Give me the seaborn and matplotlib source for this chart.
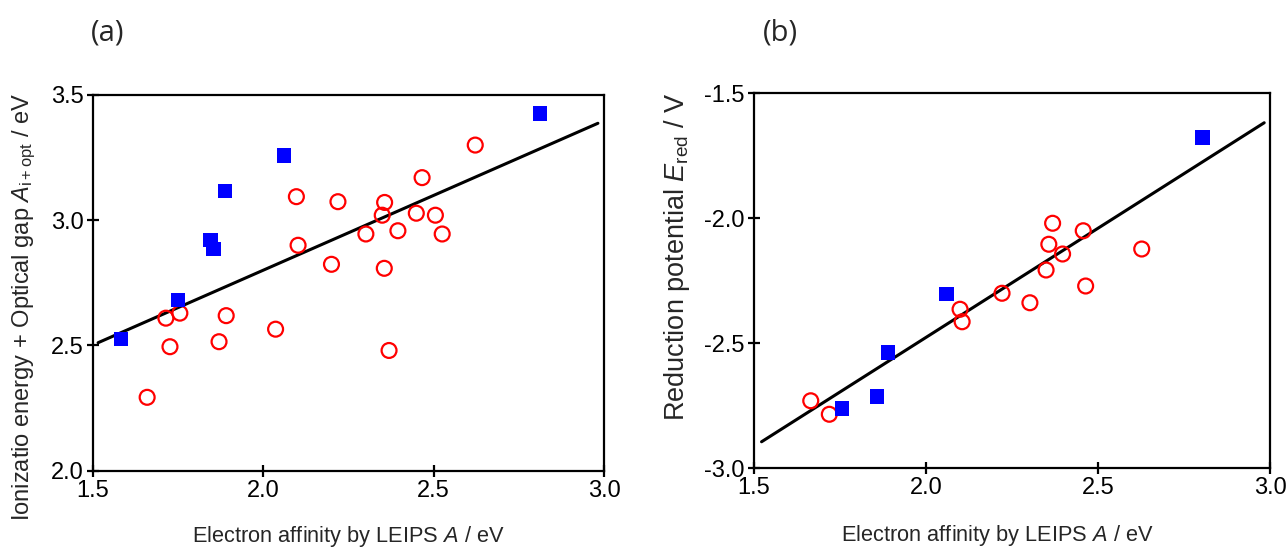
import numpy as np
import pandas as pd
import matplotlib
matplotlib.use("Agg")
import matplotlib.pyplot as plt
import seaborn as sns

# panel (a): ionization energy + optical gap vs LEIPS electron affinity
a_sq_x = [1.582, 1.749, 1.845, 1.853, 1.887, 2.061, 2.812]
a_sq_y = [2.526, 2.682, 2.921, 2.885, 3.117, 3.258, 3.427]
a_ci_x = [1.659, 1.714, 1.726, 1.755, 1.870, 1.891, 2.036, 2.097, 2.102, 2.200, 2.219,
          2.301, 2.349, 2.356, 2.355, 2.369, 2.395, 2.449, 2.466, 2.505, 2.525, 2.622]
a_ci_y = [2.293, 2.609, 2.495, 2.629, 2.515, 2.619, 2.565, 3.094, 2.900, 2.824, 3.074,
          2.945, 3.020, 3.071, 2.808, 2.480, 2.958, 3.028, 3.170, 3.020, 2.945, 3.300]
a_fit_x = [1.515, 2.982]
a_fit_y = [2.511, 3.387]

# panel (b): reduction potential vs LEIPS electron affinity
b_sq_x = [1.756, 1.857, 1.889, 2.060, 2.804]
b_sq_y = [-2.761, -2.715, -2.537, -2.304, -1.677]
b_ci_x = [1.665, 1.719, 2.099, 2.105, 2.221, 2.302, 2.349, 2.357, 2.368, 2.397, 2.457, 2.464, 2.627]
b_ci_y = [-2.731, -2.785, -2.365, -2.415, -2.301, -2.339, -2.208, -2.105, -2.021, -2.144,
          -2.051, -2.272, -2.124]
b_fit_x = [1.522, 2.983]
b_fit_y = [-2.895, -1.619]

x_ticks = [1.5, 2.0, 2.5, 3.0]
a_yticks = [2.0, 2.5, 3.0, 3.5]
b_yticks = [-3.0, -2.5, -2.0, -1.5]

sns.set_style("ticks")
plt.rcParams["font.family"] = ["Liberation Sans", "DejaVu Sans"]
plt.rcParams["mathtext.fontset"] = "custom"
plt.rcParams["mathtext.rm"] = "Liberation Sans"
plt.rcParams["mathtext.it"] = "Liberation Sans:italic"

FS = 17

fig = plt.figure(figsize=(12.86, 5.49), dpi=100)
ax_a = fig.add_axes([0.0723, 0.1426, 0.3974, 0.6844])
ax_b = fig.add_axes([0.5863, 0.1475, 0.4013, 0.6831])


def draw(ax, sx, sy, cx, cy, fx, fy):
    sns.scatterplot(x=cx, y=cy, ax=ax, marker="o", s=115, facecolor="none",
                    edgecolor="red", linewidth=1.6, zorder=3)
    sns.scatterplot(x=sx, y=sy, ax=ax, marker="s", s=110, color="#0000ff",
                    edgecolor="none", linewidth=0, zorder=4)
    sns.lineplot(x=fx, y=fy, ax=ax, color="black", linewidth=2.2, zorder=2)
    for sp in ax.spines.values():
        sp.set_linewidth(1.6)
        sp.set_color("black")
        sp.set_visible(True)
    ax.tick_params(direction="inout", length=9, width=1.6, labelsize=FS,
                   colors="black", pad=2)
    ax.set_xlim(1.5, 3.0)
    ax.set_xticks(x_ticks)
    ax.set_xticklabels([f"{t:.1f}" for t in x_ticks])


draw(ax_a, a_sq_x, a_sq_y, a_ci_x, a_ci_y, a_fit_x, a_fit_y)
ax_a.set_ylim(2.0, 3.5)
ax_a.set_yticks(a_yticks)
ax_a.set_yticklabels([f"{t:.1f}" for t in a_yticks])
ax_a.set_xlabel("Electron affinity by LEIPS $A$ / eV", fontsize=15.7)
ax_a.set_ylabel("Ionizatio energy + Optical gap $A_{\\mathrm{i+opt}}$ / eV", fontsize=17)
ax_a.xaxis.set_label_coords(0.5, -0.142)
ax_a.yaxis.set_label_coords(-0.108, 0.436)

draw(ax_b, b_sq_x, b_sq_y, b_ci_x, b_ci_y, b_fit_x, b_fit_y)
ax_b.set_ylim(-3.0, -1.5)
ax_b.set_yticks(b_yticks)
ax_b.set_yticklabels([f"{t:.1f}" for t in b_yticks])
ax_b.set_xlabel("Electron affinity by LEIPS $A$ / eV", fontsize=15.7)
ax_b.set_ylabel("Reduction potential $E_{\\mathrm{red}}$ / V", fontsize=19.5)
ax_b.xaxis.set_label_coords(0.471, -0.147)
ax_b.yaxis.set_label_coords(-0.12, 0.563)

fig.text(108 / 1286, 1 - 33 / 549, "(a)", fontsize=21, ha="center", va="center",
         family=["Open Sans", "DejaVu Sans"])
fig.text(780 / 1286, 1 - 33 / 549, "(b)", fontsize=21, ha="center", va="center",
         family=["Open Sans", "DejaVu Sans"])

fig.savefig("out.png", dpi=100)
